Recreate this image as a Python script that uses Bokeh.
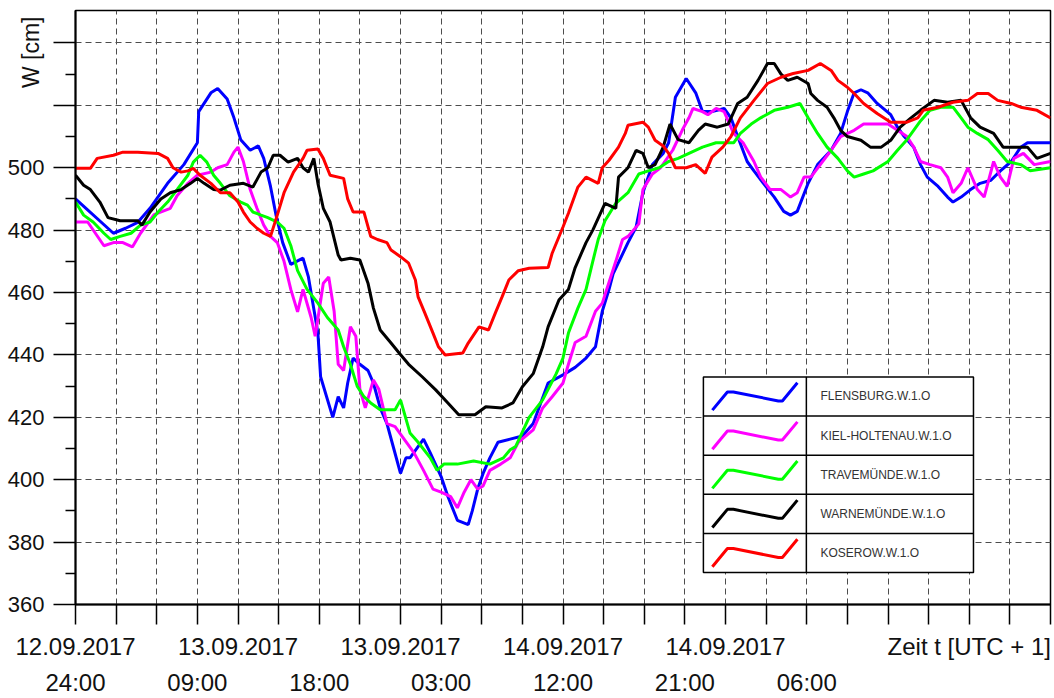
import math
from bokeh.plotting import figure
from bokeh.models import FixedTicker, LinearAxis, Range1d, Grid
from bokeh.core.properties import value
from bokeh.embed import file_html
from bokeh.resources import INLINE

# time axis: hours since 12.09.2017 24:00 (UTC+1)
names = ["FLENSBURG.W.1.O", "KIEL-HOLTENAU.W.1.O", "TRAVEMÜNDE.W.1.O",
         "WARNEMÜNDE.W.1.O", "KOSEROW.W.1.O"]
colors = ["#0000ff", "#ff00ff", "#00ff00", "#000000", "#ff0000"]

flensburg_t = [0, 2.8, 3.7, 4.6, 5.5, 6.8, 8.0, 9.0, 9.1, 10.0, 10.5, 11.2, 11.7, 12.2, 12.9, 13.5, 13.9, 14.4,
               14.8, 15.3, 15.9, 16.8, 17.2, 17.9, 18.1, 19.0, 19.4, 19.8, 20.1, 20.5, 21.0, 21.6, 22.0, 22.5,
               23.0, 23.5, 24.0, 24.4, 24.7, 25.7, 26.2, 27.0, 27.5, 28.2, 29.0, 29.3, 29.7, 30.1, 30.6, 31.2,
               32.1, 33.0, 33.8, 34.9, 36.0, 36.9, 37.7, 38.4, 38.9, 39.4, 39.7, 40.8, 41.4, 41.9, 42.6, 43.4,
               43.8, 44.3, 45.1, 45.8, 46.3, 47.0, 47.9, 48.4, 48.9, 49.6, 50.1, 50.8, 51.6, 52.3, 52.8, 53.3,
               54.1, 54.8, 55.8, 56.5, 57.0, 57.5, 58.0, 58.5, 59.2, 60.2, 60.7, 61.2, 61.9, 62.4, 62.9, 63.7,
               64.4, 64.8, 65.4, 66.1, 66.8, 67.6, 68.3, 69.1, 69.8, 70.3, 72.0]
flensburg_w = [490, 479, 480.6, 482.5, 487, 495, 501, 508, 518, 524, 525.4, 522, 516, 509, 505.6, 507, 503, 494,
               485, 476, 469, 471, 465, 447, 433, 420, 426.6, 423, 431, 439, 437, 435, 431, 423,
               418, 410, 402, 407, 407, 413, 408.6, 401, 394.6, 387, 385.6, 390, 397, 402, 407, 412,
               413, 414, 418, 431, 433.6, 436, 439, 442.6, 454, 461, 466, 476, 481, 492, 501, 504.6,
               508, 522.6, 528.6, 524, 518, 518, 519, 516, 510, 502, 499, 495, 490.6, 486, 484.8, 486,
               495, 501, 505.6, 511, 518, 524, 525, 524, 520.6, 517, 513, 510, 506.6, 501, 497, 494,
               490.6, 489, 490.6, 493, 495, 496, 499, 502, 506.6, 508, 508]

kiel_t = [0, 0.9, 2.1, 2.8, 3.5, 4.2, 4.8, 5.8, 7.0, 7.5, 8.3, 9.0, 10.0, 10.5, 11.2, 11.7, 12.0, 12.4, 12.9,
          13.4, 13.9, 14.4, 14.9, 15.4, 15.9, 16.4, 16.8, 17.4, 17.7, 18.3, 18.7, 19.1, 19.4, 19.8, 20.3,
          20.7, 21.0, 21.4, 22.0, 22.4, 23.0, 23.6, 25.0, 25.7, 26.4, 27.0, 27.7, 28.2, 28.7, 29.2, 29.7,
          30.1, 30.6, 31.4, 32.1, 32.7, 33.8, 34.5, 35.2, 36.0, 36.4, 36.9, 37.7, 38.4, 38.9, 39.9, 40.4,
          40.8, 41.6, 41.9, 42.6, 43.2, 44.1, 44.8, 45.3, 45.6, 46.3, 46.7, 47.3, 47.9, 48.6, 49.3, 50.1,
          50.6, 51.3, 52.1, 52.8, 53.3, 53.8, 54.3, 55.0, 55.8, 56.5, 57.5, 58.2, 60.0, 60.7, 61.4, 61.9,
          62.4, 63.1, 63.9, 64.4, 64.8, 65.4, 65.9, 66.6, 67.1, 67.8, 68.3, 68.8, 69.3, 70.0, 70.8, 72.0]
kiel_w = [482.6, 482.6, 475, 476, 476, 474.6, 479, 485, 487, 491, 495, 497.6, 498.6, 500, 501, 505, 506.6, 502, 493,
          487, 481.6, 478, 476, 470, 461, 453.8, 461, 452, 446, 463, 465, 454, 437, 435, 449,
          446, 429, 423, 432, 429, 418, 417, 408.6, 403, 397, 396, 394.6, 391, 396, 400, 397,
          398, 403, 405, 407, 412, 416, 423, 426.6, 431, 437, 444, 446, 454, 456.6, 470, 477,
          478, 482, 493, 498, 500, 505.6, 512, 516, 519, 518, 517, 519, 518, 511, 508, 502,
          497, 493, 493, 490.6, 492, 497, 497, 501, 505.6, 510, 512, 514, 514, 512, 510, 506.6,
          502, 501, 500, 497, 492, 495, 500, 493, 490.6, 502, 497, 494, 503, 504.6, 501, 502]

travemuende_t = [0, 0.6, 1.3, 2.1, 2.6, 3.3, 4.1, 4.8, 5.5, 6.1, 6.8, 7.5, 8.3, 8.7, 9.2, 9.7, 10.2, 10.7,
                 11.4, 12.2, 12.7, 13.1, 13.7, 14.2, 14.9, 15.4, 15.9, 16.4, 17.1, 17.9, 18.6, 19.4, 19.8,
                 20.3, 20.8, 21.3, 21.8, 22.5, 23.3, 23.6, 24.0, 24.7, 25.3, 26.2, 26.7, 27.2, 28.2, 29.4,
                 30.6, 31.6, 32.1, 32.5, 33.5, 34.5, 35.5, 36.0, 36.4, 37.1, 37.7, 38.2, 38.6, 39.1, 39.9,
                 40.8, 41.6, 42.3, 43.1, 43.8, 44.5, 45.3, 46.3, 47.3, 47.9, 48.6, 49.1, 49.9, 50.6, 51.6,
                 52.6, 53.5, 54.1, 54.8, 55.5, 56.3, 57.0, 57.5, 58.2, 58.9, 60.0, 60.7, 61.4, 62.4, 63.1,
                 63.9, 64.8, 65.4, 65.9, 66.6, 67.4, 68.1, 68.8, 69.8, 70.5, 72.0]
travemuende_w = [489, 484.8, 482.6, 479, 477, 478, 479, 481.6, 482.6, 485.8, 489, 493, 497.6, 501.8, 504, 501.8, 497.6, 495,
                 491, 489, 488, 485.8, 484.8, 484, 482.6, 480.6, 475, 467, 461, 456.6, 452, 448, 442.6,
                 437, 430, 426.6, 424.6, 422.4, 422.4, 422.4, 425.6, 415, 412, 407, 403, 405, 405, 406,
                 405, 407, 409.6, 410.6, 420, 425.6, 434, 439, 447, 455, 461, 470, 477, 483, 488.6,
                 492, 498, 499, 500, 502, 503, 504.6, 506.6, 508, 508, 508, 511, 514, 516, 518.4,
                 519.4, 520.6, 516, 511, 506.6, 503, 499, 497, 498, 499, 502, 505.6, 509, 515, 518.4,
                 519.4, 519.4, 516, 513, 511, 509, 505.6, 502, 501, 499, 500]

warnemuende_t = [0, 0.6, 1.1, 1.8, 2.4, 3.3, 4.6, 4.9, 5.5, 6.3, 7.0, 7.8, 8.5, 9.0, 9.5, 10.2, 10.7, 11.4,
                 12.4, 13.1, 13.7, 14.2, 14.6, 15.1, 15.7, 16.4, 16.8, 17.2, 17.6, 17.9, 18.3, 18.8, 19.4,
                 19.6, 20.3, 21.0, 21.6, 22.0, 22.5, 23.3, 23.9, 24.6, 25.6, 26.6, 27.5, 28.3, 29.5, 30.3,
                 31.5, 32.3, 33.0, 33.8, 34.5, 34.9, 35.7, 36.4, 36.9, 37.7, 38.2, 39.1, 39.9, 40.1, 40.8,
                 41.4, 41.9, 42.3, 42.8, 43.4, 43.9, 44.5, 45.3, 46.0, 46.5, 47.4, 48.2, 48.9, 49.6, 50.4,
                 51.1, 51.6, 52.1, 52.6, 53.3, 54.1, 54.3, 54.8, 55.5, 56.0, 56.5, 57.0, 58.0, 58.7, 59.5,
                 60.2, 60.9, 61.7, 62.4, 63.4, 64.4, 65.4, 66.1, 66.8, 67.8, 68.5, 70.3, 71.0, 72.0]
warnemuende_w = [497.6, 494.4, 493, 489, 484, 483, 483, 481.6, 485.8, 490, 492, 493, 495, 496.6, 495, 493, 492.8, 494.4,
                 495, 493.8, 498.6, 500, 504, 504, 501.8, 503, 500, 498.6, 503, 495, 487, 482.6, 472,
                 470.4, 471, 470.4, 463, 455, 448, 443.8, 440.6, 437, 433, 428.8, 424.6, 420.8, 420.8, 423.4,
                 423, 424.6, 429.8, 434, 442.6, 449, 457.6, 461, 468, 476, 480, 488.6, 487, 497, 500,
                 505.6, 504.6, 500, 501, 506.6, 514, 509, 508, 512, 514, 513, 514, 520.6, 522.6, 528,
                 533.4, 533.4, 530, 528, 529, 527, 523.8, 521.6, 519.4, 516, 512, 510, 508.8, 506.6, 506.6,
                 508.8, 513, 516, 518.4, 521.6, 521, 521.6, 516, 513, 511, 506.6, 506.6, 503, 504.6]

koserow_t = [0, 1.1, 1.6, 2.8, 3.5, 4.6, 6.1, 6.8, 7.2, 7.8, 8.3, 8.7, 9.2, 10.0, 10.7, 11.4, 12.0, 12.4, 12.9,
             13.4, 13.9, 14.4, 14.9, 15.4, 16.1, 16.8, 17.1, 17.9, 18.3, 18.8, 19.8, 20.1, 20.5, 21.3, 21.8,
             22.3, 23.0, 23.3, 24.0, 24.6, 25.1, 25.3, 25.8, 26.4, 26.8, 27.3, 28.6, 29.0, 29.8, 30.5, 31.0,
             31.5, 32.0, 32.7, 33.5, 34.9, 35.2, 36.0, 36.4, 37.1, 37.7, 38.6, 38.9, 39.4, 40.1, 40.6, 40.8,
             41.9, 42.3, 42.8, 43.4, 43.8, 44.3, 45.1, 45.8, 46.5, 47.0, 47.8, 48.4, 49.1, 50.1, 51.1, 52.1,
             53.0, 54.1, 55.0, 55.8, 56.3, 57.0, 57.5, 58.2, 59.2, 60.2, 61.4, 62.2, 62.6, 63.7, 64.8, 65.9,
             66.6, 67.4, 68.1, 69.1, 69.8, 71.0, 72.0]
koserow_w = [499.8, 499.8, 503, 504, 505, 505, 504.6, 503, 500, 498.6, 499, 499.8, 497.6, 495, 492, 492, 489, 485.8, 482.6,
             480.6, 479, 478, 484.8, 492, 498.6, 503, 505.6, 506, 503, 497.6, 496.6, 490, 485.8, 485.8, 478,
             477, 476, 473.6, 471.5, 469.4, 464, 458.6, 453.4, 447, 442.6, 440, 440.6, 443.8, 449, 448, 453.4,
             458.6, 464, 467, 467.8, 468, 472.6, 481, 485.4, 493.8, 497, 495, 500, 502.4, 506.6, 511, 513.6,
             514.6, 513, 508.8, 507, 504.6, 500, 500, 501, 498.2, 503.4, 506.6, 510, 516, 521.6, 527, 529,
             530.2, 531.2, 533.4, 531.2, 528, 525.8, 523.8, 520.6, 517.4, 514.6, 514.6, 516, 518.4, 519.4, 521, 521.6,
             523.8, 523.8, 521.6, 520.6, 519.4, 518.4, 516]

series_t = [flensburg_t, kiel_t, travemuende_t, warnemuende_t, koserow_t]
series_w = [flensburg_w, kiel_w, travemuende_w, warnemuende_w, koserow_w]

# axis labelling
date_ticks = [0, 12, 24, 36, 48]
date_labels = ["12.09.2017", "13.09.2017", "13.09.2017", "14.09.2017", "14.09.2017"]
time_ticks = [0, 9, 18, 27, 36, 45, 54]
time_labels = ["24:00", "09:00", "18:00", "03:00", "12:00", "21:00", "06:00"]
x_title = "Zeit t [UTC + 1]"
x_title_tick = 66
y_title = "W [cm]"
y_title_at = 537

X0, X1 = 0, 72
Y0, Y1 = 360, 550.4

FONT = "Liberation Sans"
TXT = "#111111"

p = figure(width=1054, height=698, output_backend="svg", toolbar_location=None,
           x_range=Range1d(X0, X1), y_range=Range1d(Y0, Y1),
           min_border_left=75, min_border_right=4, min_border_top=10, min_border_bottom=10,
           x_axis_type=None, y_axis_type=None)
p.background_fill_color = "white"
p.border_fill_color = "white"
p.outline_line_color = "#000000"
p.outline_line_width = 1.5

# y axis
yticks = list(range(360, 541, 20))
ymin = list(range(370, 531, 20))
yax = LinearAxis(ticker=FixedTicker(ticks=yticks, minor_ticks=ymin))
yax.major_label_overrides = {540: "", 520: ""}
yax.major_tick_in = 0
yax.major_tick_out = 22
yax.minor_tick_in = 0
yax.minor_tick_out = 10
yax.major_tick_line_width = 1.5
yax.minor_tick_line_width = 1.5
yax.axis_line_width = 2
yax.major_label_standoff = 9
yax.major_label_text_font = FONT
yax.major_label_text_font_size = "22px"
yax.major_label_text_color = TXT
p.add_layout(yax, "left")

# y title as a rotated label of an extra (tick-less) axis, pulled inwards
ytit = LinearAxis(ticker=FixedTicker(ticks=[y_title_at], minor_ticks=[]))
ytit.major_label_overrides = {y_title_at: y_title}
ytit.major_label_orientation = "vertical"
ytit.major_tick_in = 0
ytit.major_tick_out = 0
ytit.minor_tick_in = 0
ytit.minor_tick_out = 0
ytit.axis_line_color = None
ytit.major_label_standoff = -40
ytit.major_label_text_font = FONT
ytit.major_label_text_font_size = "23px"
ytit.major_label_text_color = TXT
p.add_layout(ytit, "left")

# x axis 1: ticks every 3 h + date row
xticks = list(range(0, 73, 3))
ov = {t: "" for t in xticks}
for t, l in zip(date_ticks, date_labels):
    ov[t] = l
ov[x_title_tick] = x_title
xax = LinearAxis(ticker=FixedTicker(ticks=xticks, minor_ticks=[]))
xax.major_label_overrides = ov
xax.major_tick_in = 0
xax.major_tick_out = 20
xax.major_tick_line_width = 1.5
xax.axis_line_width = 2
xax.major_label_standoff = 8
xax.major_label_text_font = FONT
xax.major_label_text_font_size = "24px"
xax.major_label_text_color = TXT
p.add_layout(xax, "below")

# x axis 2: time row
xax2 = LinearAxis(ticker=FixedTicker(ticks=time_ticks, minor_ticks=[]))
xax2.major_label_overrides = {t: l for t, l in zip(time_ticks, time_labels)}
xax2.major_tick_in = 0
xax2.major_tick_out = 0
xax2.axis_line_color = None
xax2.major_label_standoff = 6
xax2.major_label_text_font = FONT
xax2.major_label_text_font_size = "24px"
xax2.major_label_text_color = TXT
p.add_layout(xax2, "below")

# grids
xg = Grid(dimension=0, ticker=FixedTicker(ticks=list(range(3, 72, 3))))
yg = Grid(dimension=1, ticker=FixedTicker(ticks=list(range(380, 541, 20))))
for g in (xg, yg):
    g.grid_line_color = "#4d4d4d"
    g.grid_line_dash = "6 4"
    g.grid_line_width = 1
    p.add_layout(g)

# data
for t, w, c in zip(series_t, series_w, colors):
    p.line(t, w, line_color=c, line_width=3)

# legend table (placed as fractions of the plot area)
def fx(f):
    return X0 + f * (X1 - X0)

def fy(f):  # f measured from the top
    return Y1 - f * (Y1 - Y0)

L, R, D = 0.644, 0.921, 0.7496
T, B = 0.6168, 0.9462
n = len(names)
rh = (B - T) / n
p.quad(left=[fx(L)], right=[fx(R)], top=[fy(T)], bottom=[fy(B)],
       fill_color="white", line_color="black", line_width=1.5)
p.segment(x0=[fx(D)], x1=[fx(D)], y0=[fy(T)], y1=[fy(B)], line_color="black", line_width=1.5)
p.segment(x0=[fx(L)] * (n - 1), x1=[fx(R)] * (n - 1),
          y0=[fy(T + rh * (i + 1)) for i in range(n - 1)],
          y1=[fy(T + rh * (i + 1)) for i in range(n - 1)], line_color="black", line_width=1.5)
sx = [0.087, 0.233, 0.291, 0.728, 0.767, 0.913]
sy = [0.85, 0.385, 0.385, 0.615, 0.615, 0.15]
for i, (nm, c) in enumerate(zip(names, colors)):
    top = T + rh * i
    xs = [fx(L + (D - L) * a) for a in sx]
    ys = [fy(top + rh * b) for b in sy]
    p.line(xs, ys, line_color=c, line_width=3)
p.text(x=[fx(D + 0.0144)] * n, y=[fy(T + rh * (i + 0.5)) for i in range(n)], text=names,
       text_font=value(FONT), text_font_size="12px", text_color="#333333",
       text_baseline="middle", text_align="left")

open("out.html", "w").write(file_html(p, INLINE))
